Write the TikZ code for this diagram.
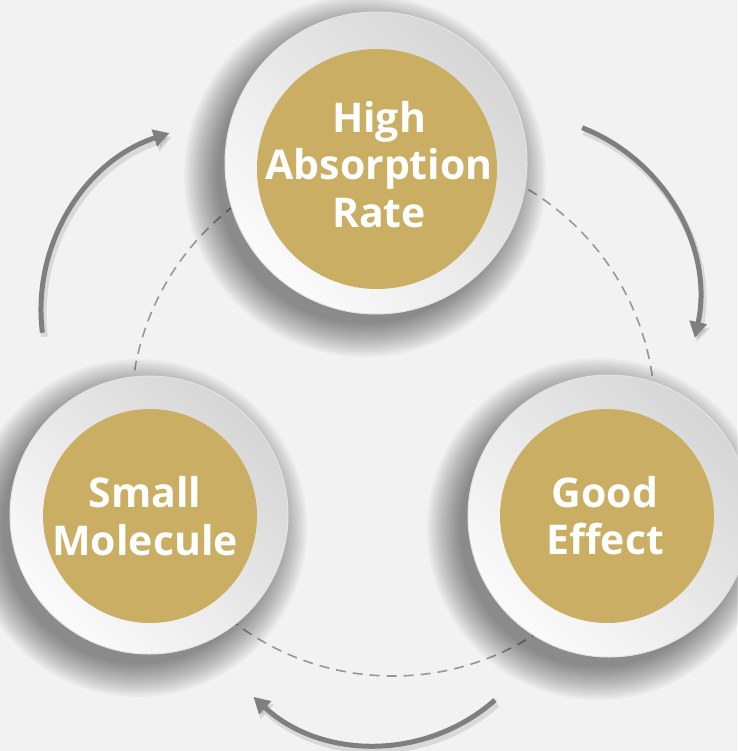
\documentclass[tikz,border=0pt]{standalone}
\usepackage{fontspec}
\setmainfont{Open Sans}
\usetikzlibrary{arrows.meta}
\definecolor{bgcol}{HTML}{F2F2F2}
\definecolor{gold}{HTML}{C9AE64}
\definecolor{arrowgray}{HTML}{7F7F7F}
\definecolor{dashgray}{HTML}{979797}
\definecolor{platedark}{HTML}{D6D6D6}
\definecolor{platelight}{HTML}{FBFBFB}
\newcommand\myplate[7]{%
  \coordinate (#1) at (#2,#3);
  \foreach \k in {0,...,15}{\fill[black,opacity=0.03] ([shift={(-11,13)}]#1) circle[radius={#4+30-2.2*\k}];}
  \shade[top color=platedark, bottom color=platelight, shading angle=-45] (#1) circle[radius=#4];
  \draw[gray!22, line width=1pt] (#1) circle[radius=#4];
  \fill[gold] (#5,#6) circle[radius=#7];
}
\newcommand\myflow[5]{%
  \coordinate (#1) at (#2);
  \draw[flowshadow] ([shift={(#4:#3)}]#1) ++(2,4) arc[start angle=#4, end angle=#5, radius=#3];
  \draw[flow] ([shift={(#4:#3)}]#1) arc[start angle=#4, end angle=#5, radius=#3];
}
\begin{document}
\begin{tikzpicture}[x=1pt,y=-1pt,
  txt/.style={text=white, font=\fontsize{41}{47.5}\selectfont\bfseries, align=center, inner sep=0pt},
  flow/.style={line width=5pt, draw=arrowgray, -{Triangle[length=16pt,width=17pt]}},
  flowshadow/.style={line width=7pt, draw=black, opacity=0.10, -{Triangle[length=16pt,width=19pt]}}]
\fill[bgcol] (0,0) rectangle (737,751);
\useasboundingbox (0,0) rectangle (737,751);
% dashed ring
\coordinate (ring) at (393,414);
\draw[dashgray, line width=1.6pt, dash pattern=on 10pt off 7pt] (ring) circle[radius=262];
% arrows
\myflow{tlc}{227,310}{186}{173}{252}
\myflow{trc}{515,299}{184}{-68.6}{12.2}
\myflow{btc}{376,565}{180}{48.6}{132.9}
% plates
\myplate{ptop}{376}{163}{151}{377}{169}{120}
\myplate{pleft}{149}{515}{139}{150}{516}{107}
\myplate{pright}{609}{516}{141}{607}{516}{107}
% labels
\node[txt] (ttop) at (379,164.5) {High\\Absorption\\Rate};
\node[txt] (tleft) at (145,516) {Small\\Molecule};
\node[txt] (tright) at (605,515.5) {Good\\Effect};
\end{tikzpicture}
\end{document}
